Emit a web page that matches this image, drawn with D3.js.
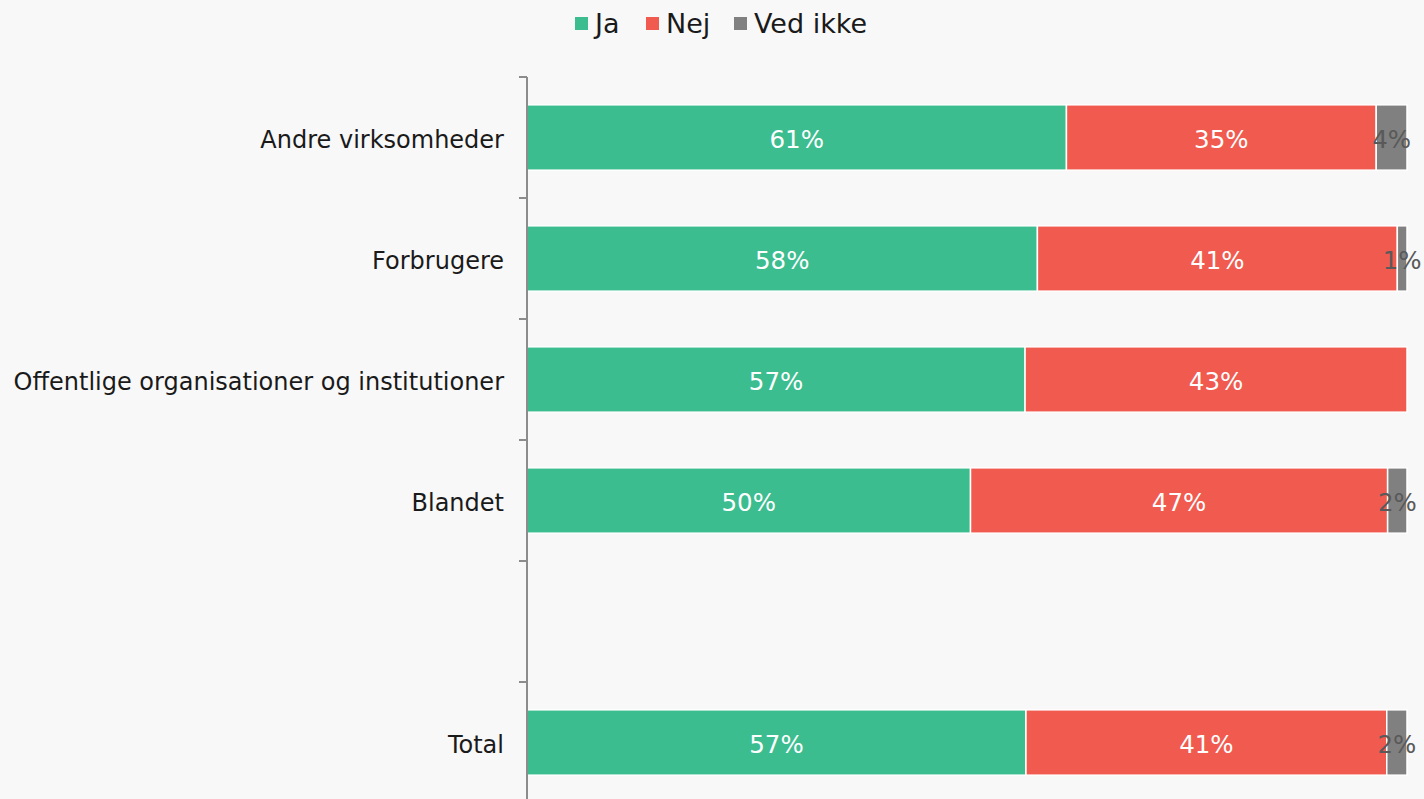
<!DOCTYPE html>
<html lang="da">
<head>
<meta charset="UTF-8">
<title>Ja / Nej / Ved ikke</title>
<style>
  body { margin: 0; padding: 0; background: #f8f8f8; }
  svg { display: block; font-family: "DejaVu Sans", Verdana, sans-serif; }
</style>
</head>
<body>
<div id="chart"></div>
<script src="https://d3js.org/d3.v7.min.js"></script>
<script>
// data
const categories = ["Andre virksomheder", "Forbrugere", "Offentlige organisationer og institutioner", "Blandet", "", "Total"];
const seriesNames = ["Ja", "Nej", "Ved ikke"];
const ja      = [61.3, 58.0, 56.6, 50.4, null, 56.7];
const nej     = [35.2, 40.9, 43.4, 47.4, null, 41.0];
const vedIkke = [3.5,  1.1,  0,    2.2,  null, 2.3];

const colors = ["#3bbd8f", "#f15a4f", "#808080"];
const labelColors = ["#ffffff", "#ffffff", "#595959"];

const W = 1424, H = 799;
const svg = d3.select("#chart").append("svg")
  .attr("width", W).attr("height", H);

svg.append("rect").attr("width", W).attr("height", H).attr("fill", "#f8f8f8");

const x = d3.scaleLinear().domain([0, 100]).range([527, 1407]);
const y = d3.scaleBand().domain(categories).range([77, 803])
  .paddingInner(0.46).paddingOuter(0.23);

const rows = categories.map((c, i) => ({ cat: c, vals: [ja[i], nej[i], vedIkke[i]] }))
  .filter(r => r.vals[0] != null);

const table = rows.map(r => {
  const o = { cat: r.cat };
  seriesNames.forEach((s, k) => o[s] = r.vals[k]);
  return o;
});
const stacked = d3.stack().keys(seriesNames)(table);

// bars
const layer = svg.selectAll(".layer")
  .data(stacked)
  .join("g")
  .attr("class", "layer")
  .attr("fill", (d, i) => colors[i]);

layer.selectAll("rect")
  .data(d => d.filter(p => p[1] - p[0] > 0))
  .join("rect")
  .attr("x", d => x(d[0]))
  .attr("y", d => y(d.data.cat))
  .attr("width", d => x(d[1]) - x(d[0]))
  .attr("height", y.bandwidth())
  .attr("stroke", "#ffffff")
  .attr("stroke-width", 1.5);

// value labels
stacked.forEach((s, i) => {
  svg.append("g").selectAll("text")
    .data(s.filter(p => p[1] - p[0] >= 0.5))
    .join("text")
    .attr("x", d => (x(d[0]) + x(d[1])) / 2)
    .attr("y", d => y(d.data.cat) + y.bandwidth() / 2 + 1.5)
    .attr("text-anchor", "middle")
    .attr("dominant-baseline", "central")
    .attr("font-size", 24.5)
    .attr("fill", labelColors[i])
    .text(d => Math.round(d[1] - d[0]) + "%");
});

// category axis
const axis = svg.append("g").attr("transform", `translate(${x(0)},0)`);
axis.call(d3.axisLeft(y).tickSize(0).tickPadding(23))
  .call(g => g.select(".domain").remove())
  .selectAll("text")
  .attr("dy", "0.42em")
  .attr("font-size", 24)
  .attr("font-family", "DejaVu Sans, Verdana, sans-serif")
  .attr("fill", "#1a1a1a");

const step = y.step();
const bounds = d3.range(categories.length + 1).map(i => 77 + i * step);
axis.append("line")
  .attr("x1", 0).attr("x2", 0)
  .attr("y1", 77).attr("y2", H)
  .attr("stroke", "#8c8c8c").attr("stroke-width", 2);
axis.selectAll(".btick")
  .data(bounds)
  .join("line")
  .attr("class", "btick")
  .attr("x1", -8).attr("x2", 0)
  .attr("y1", d => d).attr("y2", d => d)
  .attr("stroke", "#8c8c8c").attr("stroke-width", 2);

// legend
const legendX = [575, 646, 734];
const legend = svg.append("g");
seriesNames.forEach((s, i) => {
  legend.append("rect")
    .attr("x", legendX[i]).attr("y", 17)
    .attr("width", 13).attr("height", 13)
    .attr("fill", colors[i]);
  legend.append("text")
    .attr("x", legendX[i] + 20).attr("y", 33)
    .attr("font-size", 27)
    .attr("fill", "#1a1a1a")
    .text(s);
});
</script>
</body>
</html>
